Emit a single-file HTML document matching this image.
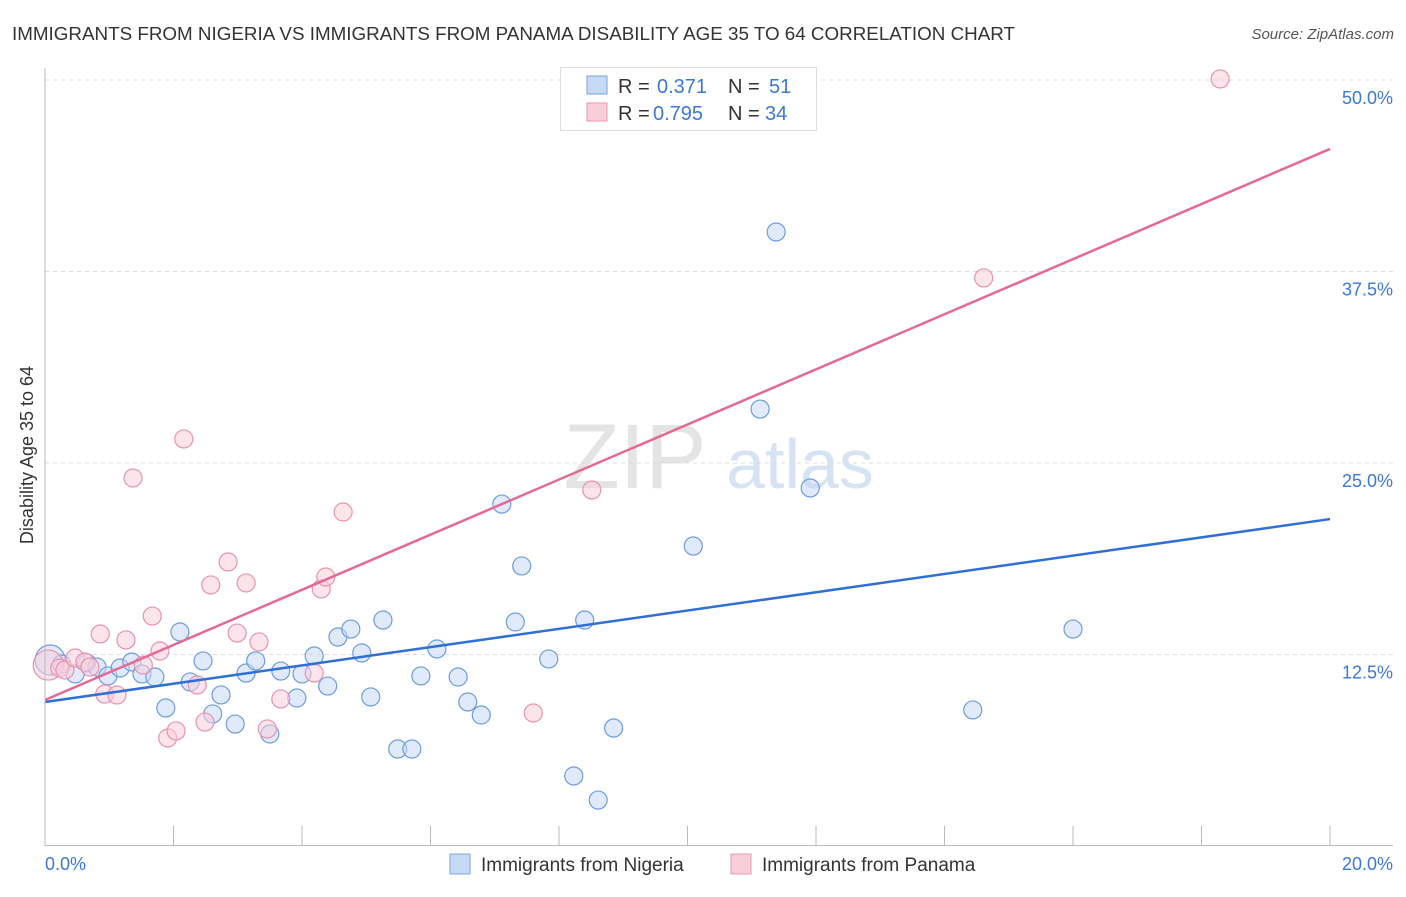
<!DOCTYPE html>
<html><head><meta charset="utf-8"><style>
body{margin:0;background:#fff;font-family:"Liberation Sans",sans-serif;}
svg text{font-family:"Liberation Sans",sans-serif;}
</style></head><body>
<svg id="c" width="1406" height="892">
<text x="12" y="40" font-size="18.5" fill="#333" textLength="1003" lengthAdjust="spacingAndGlyphs">IMMIGRANTS FROM NIGERIA VS IMMIGRANTS FROM PANAMA DISABILITY AGE 35 TO 64 CORRELATION CHART</text>
<text x="1394" y="39" font-size="15" fill="#555" text-anchor="end" font-style="italic">Source: ZipAtlas.com</text>
<text x="635" y="488" font-size="92" fill="#e4e4e4" font-family="Liberation Serif" text-anchor="middle">ZIP</text>
<text x="800" y="488" font-size="70" fill="#d6e3f3" text-anchor="middle">atlas</text>
<g id="grid"></g><g id="marks"></g>
<line x1="45" y1="68" x2="45" y2="846" stroke="#bbb"/>
<line x1="45" y1="845.5" x2="1393" y2="845.5" stroke="#bbb"/>
<text x="33" y="455" font-size="18" fill="#333" text-anchor="middle" transform="rotate(-90 33 455)">Disability Age 35 to 64</text>
<text x="45" y="870" font-size="18" fill="#3b78d8">0.0%</text>
<text x="1393" y="870" font-size="18" fill="#3b78d8" text-anchor="end">20.0%</text>
<g>
<rect x="560.5" y="67.5" width="256" height="63" fill="#fff" stroke="#ddd"/>
<rect x="587" y="76" width="20" height="18" fill="#c6d9f5" stroke="#7aa3e0"/>
<rect x="587" y="103" width="20" height="18" fill="#f9cedb" stroke="#e89ab3"/>
<text x="618" y="93" font-size="20" fill="#333">R = <tspan x="657" fill="#3b78d8">0.371</tspan><tspan x="728">N = </tspan><tspan x="769" fill="#3b78d8">51</tspan></text>
<text x="618" y="120" font-size="20" fill="#333">R = <tspan x="653" fill="#3b78d8">0.795</tspan><tspan x="728">N = </tspan><tspan x="765" fill="#3b78d8">34</tspan></text>
</g>
<g>
<rect x="450" y="854" width="20" height="20" fill="#c6d9f5" stroke="#7aa3e0"/>
<text x="481" y="871" font-size="19" fill="#333">Immigrants from Nigeria</text>
<rect x="731" y="854" width="20" height="20" fill="#f9cedb" stroke="#e89ab3"/>
<text x="762" y="871" font-size="19" fill="#333">Immigrants from Panama</text>
</g>
</svg>
<script>
const yTicks=[12.5,25,37.5,50];
const yTickLabels=["12.5%","25.0%","37.5%","50.0%"];
const xTicks=[0,2,4,6,8,10,12,14,16,18,20];
const nigeriaX=[0.08,0.26,0.47,0.65,0.81,0.98,1.17,1.35,1.51,1.71,1.88,2.10,2.26,2.46,2.61,2.74,2.96,3.13,3.28,3.50,3.67,3.92,4.00,4.19,4.40,4.56,4.76,4.93,5.07,5.26,5.49,5.71,5.85,6.10,6.43,6.58,6.79,7.11,7.32,7.42,7.84,8.23,8.40,8.61,8.85,10.09,11.13,11.38,11.91,14.44,16.00];
const nigeriaY=[12.14,11.88,11.23,11.95,11.68,11.10,11.62,12.01,11.23,11.03,9.01,13.97,10.71,12.08,8.62,9.86,7.96,11.29,12.08,7.31,11.42,9.66,11.23,12.40,10.44,13.64,14.16,12.60,9.73,14.75,6.33,6.33,11.10,12.86,11.03,9.40,8.55,22.32,14.62,18.28,12.21,4.57,14.75,3.00,7.70,19.58,28.52,40.08,23.37,8.88,14.16];
const panamaX=[0.05,0.23,0.31,0.47,0.62,0.70,0.86,0.93,1.12,1.26,1.37,1.53,1.67,1.79,1.91,2.04,2.16,2.37,2.49,2.58,2.85,2.99,3.13,3.33,3.46,3.67,4.19,4.30,4.37,4.64,7.60,8.51,14.61,18.29];
const panamaY=[11.81,11.62,11.49,12.27,12.01,11.68,13.84,9.92,9.86,13.45,24.02,11.81,15.01,12.73,7.05,7.51,26.57,10.51,8.09,17.04,18.54,13.90,17.17,13.32,7.64,9.60,11.29,16.78,17.56,21.80,8.68,23.24,37.08,50.07];
const nigeriaTrend=[9.40,21.34];
const panamaTrend=[9.53,45.50];
const trendX=[0,20];
const NS="http://www.w3.org/2000/svg";
const sx=v=>45+v/20*1285;
const sy=v=>846-v/12.5*191.5;
const grid=document.getElementById('grid'),marks=document.getElementById('marks');
function mk(p,tag,a){const e=document.createElementNS(NS,tag);for(const k in a)e.setAttribute(k,a[k]);p.appendChild(e);return e;}
yTicks.forEach((t,i)=>{
 const l=mk(grid,'line',{x1:45,x2:1393,y1:sy(t),y2:sy(t),stroke:'#ddd','stroke-dasharray':'4,4'});
 
 
 const tx=mk(grid,'text',{x:1393,y:sy(t)+24,'font-size':18,fill:'#3b78d8','text-anchor':'end'});
 tx.textContent=yTickLabels[i];
 
 
});
xTicks.forEach(t=>{
 if(t===0)return;
 const l=mk(grid,'line',{x1:sx(t),x2:sx(t),y1:826,y2:846,stroke:'#bbb'});
 
 
});
function pts(X,Y,fill,stroke,name){
 X.forEach((x,i)=>{
  const c=mk(marks,'circle',{cx:sx(x),cy:sy(Y[i]),r:i===0?15:9,fill:fill,'fill-opacity':0.55,stroke:stroke,'stroke-width':1.2});
  
  
 });
}
pts(nigeriaX,nigeriaY,'#c6d9f5','#6c9de0','nigeria-point');
pts(panamaX,panamaY,'#f9cedb','#e893ae','panama-point');
const t1=mk(marks,'line',{x1:sx(trendX[0]),y1:sy(nigeriaTrend[0]),x2:sx(trendX[1]),y2:sy(nigeriaTrend[1]),stroke:'#2f6fd6','stroke-width':2.5});


const t2=mk(marks,'line',{x1:sx(trendX[0]),y1:sy(panamaTrend[0]),x2:sx(trendX[1]),y2:sy(panamaTrend[1]),stroke:'#e56a93','stroke-width':2.5});


</script>
</body></html>
